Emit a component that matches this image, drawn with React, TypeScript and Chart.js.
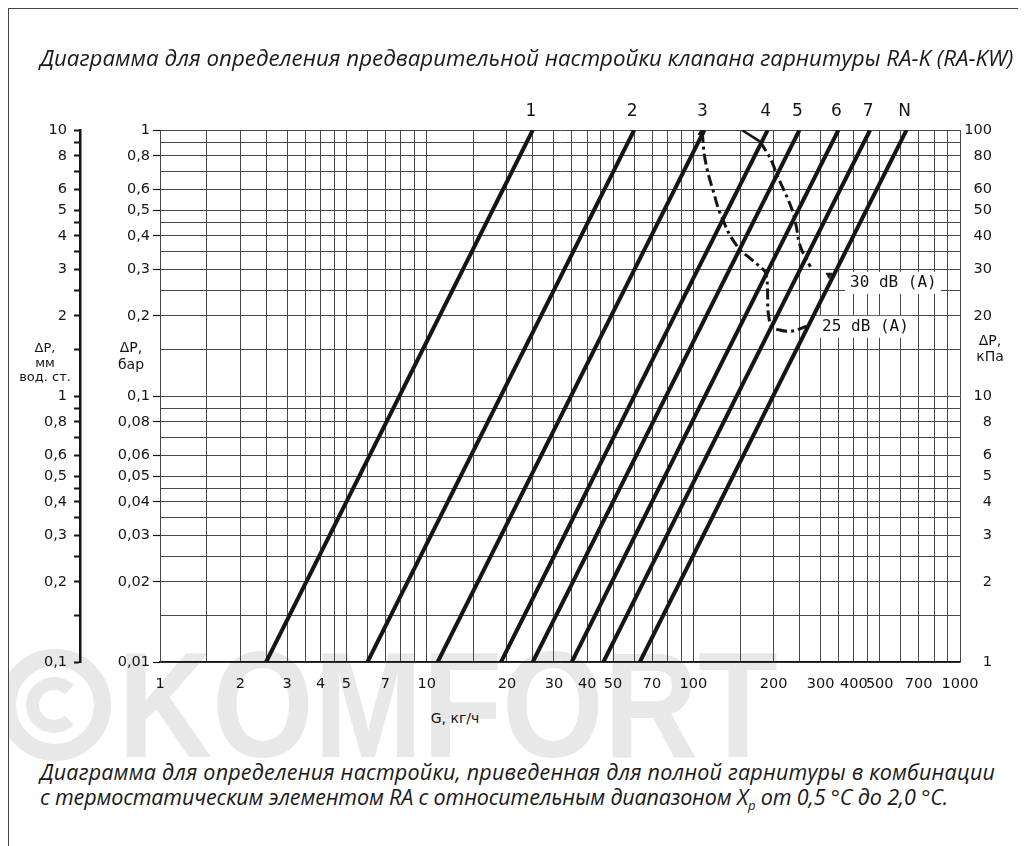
import React, { useEffect, useRef } from 'react';
import { Chart, registerables } from 'chart.js';

Chart.register(...registerables);

// Presetting lines: flow G (kg/h) read at ΔP = 0.01 bar and at ΔP = 1 bar
const settingNames = ['1', '2', '3', '4', '5', '6', '7', 'N'];
const flowAtLowDp = [2.5, 6, 11, 19, 25, 35, 46, 63];
const flowAtHighDp = [25, 60, 110, 190, 250, 350, 460, 630];
const lowDp = 0.01;
const highDp = 1;

// 25 dB(A) noise limit curve
const noise25Flow = [108, 110, 114, 119, 124, 130, 137, 150, 163, 178, 186, 189, 190, 191, 197, 211, 230, 248, 265];
const noise25Dp = [0.985, 0.805, 0.677, 0.586, 0.508, 0.452, 0.403, 0.354, 0.33, 0.306, 0.293, 0.273, 0.236, 0.205, 0.182, 0.177, 0.175, 0.178, 0.183];

// 30 dB(A) noise limit curve: short solid lead-in, then dash-dot
const noise30LeadFlow = [152, 178];
const noise30LeadDp = [1.0, 0.904];
const noise30Flow = [178, 188, 197, 206, 217, 227, 237, 244, 248, 255, 266, 275];
const noise30Dp = [0.904, 0.829, 0.76, 0.677, 0.604, 0.546, 0.486, 0.427, 0.386, 0.354, 0.325, 0.306];

// arrow marks at curve ends
const arrowFlow = [107, 323];
const arrowDp = [0.975, 0.285];
const arrowRotation = [0, 180];

const noiseLabels = ['30 dB (A)', '25 dB (A)'];
const noiseLabelFlow = [387, 304];
const noiseLabelDp = [0.266, 0.182];

const gridMantissas = [1, 1.5, 2, 2.5, 3, 3.5, 4, 4.5, 5, 6, 7, 8, 9];
const flowTickLabels = [1, 2, 3, 4, 5, 7, 10, 20, 30, 40, 50, 70, 100, 200, 300, 400, 500, 700, 1000];
const barTickLabels = [1, 0.8, 0.6, 0.5, 0.4, 0.3, 0.2, 0.1, 0.08, 0.06, 0.05, 0.04, 0.03, 0.02, 0.01];
const mmTickLabels = [10, 8, 6, 5, 4, 3, 2, 1, 0.8, 0.6, 0.5, 0.4, 0.3, 0.2, 0.1];
const kpaTickLabels = [100, 80, 60, 50, 40, 30, 20, 10, 8, 6, 5, 4, 3, 2, 1];

const logTicks = (min: number, max: number) => {
  const out: number[] = [];
  const e0 = Math.round(Math.log10(min));
  const e1 = Math.round(Math.log10(max));
  for (let e = e0; e < e1; e++) {
    for (const m of gridMantissas) out.push(+(m * Math.pow(10, e)).toPrecision(6));
  }
  out.push(max);
  return out;
};
const inList = (v: number, list: number[]) => list.some((l) => Math.abs(v - l) <= l * 1e-6);
const fmt = (v: number) => String(+v.toPrecision(6)).replace('.', ',');
const pts = (xs: number[], ys: number[]) => xs.map((x, i) => ({ x, y: ys[i] }));

const TICK_FONT = { family: '"DejaVu Sans", sans-serif', size: 14.5 };
const INK = '#151515';
const GRID = '#474747';
const WATERMARK = '#e8e8e8';

export default function App() {
  const ref = useRef<HTMLCanvasElement | null>(null);

  useEffect(() => {
    if (!ref.current) return;

    const annotate = {
      id: 'annotate',
      beforeDatasetsDraw(chart: any) {
        const { ctx, scales } = chart;
        const x = scales.x;
        const y = scales.y;
        ctx.save();
        ctx.font = '16px "DejaVu Sans Mono", monospace';
        ctx.textBaseline = 'middle';
        ctx.textAlign = 'left';
        noiseLabels.forEach((t, i) => {
          const px = x.getPixelForValue(noiseLabelFlow[i]);
          const py = y.getPixelForValue(noiseLabelDp[i]);
          const w = ctx.measureText(t).width;
          ctx.fillStyle = '#ffffff';
          ctx.fillRect(px - 5, py - 11, w + 9, 22);
          ctx.fillStyle = INK;
          ctx.fillText(t, px, py);
        });
        ctx.restore();
      },
      afterDatasetsDraw(chart: any) {
        const { ctx, scales, chartArea } = chart;
        const x = scales.x;
        ctx.save();
        ctx.font = '17px "DejaVu Sans", sans-serif';
        ctx.textBaseline = 'middle';
        ctx.textAlign = 'center';
        ctx.fillStyle = INK;
        settingNames.forEach((n, i) => {
          ctx.fillText(n, x.getPixelForValue(flowAtHighDp[i]) - 2, chartArea.top - 18);
        });
        ctx.restore();
      },
    };

    const settingSets = settingNames.map((n, i) => ({
      label: 'Настройка ' + n,
      data: [
        { x: flowAtLowDp[i], y: lowDp },
        { x: flowAtHighDp[i], y: highDp },
      ],
      borderColor: INK,
      borderWidth: 4,
      pointRadius: 0,
      tension: 0,
      borderCapStyle: 'butt',
    }));

    const chart = new Chart(ref.current, {
      type: 'line',
      data: {
        datasets: [
          ...settingSets,
          {
            label: '25 dB (A)',
            data: pts(noise25Flow, noise25Dp),
            borderColor: INK,
            borderWidth: 3,
            borderDash: [11, 4, 3, 4],
            pointRadius: 0,
            tension: 0.35,
          },
          {
            label: '30 dB (A) lead',
            data: pts(noise30LeadFlow, noise30LeadDp),
            borderColor: INK,
            borderWidth: 2.5,
            pointRadius: 0,
            tension: 0,
          },
          {
            label: '30 dB (A)',
            data: pts(noise30Flow, noise30Dp),
            borderColor: INK,
            borderWidth: 3,
            borderDash: [11, 4, 3, 4],
            pointRadius: 0,
            tension: 0.35,
          },
          {
            label: 'arrows',
            data: pts(arrowFlow, arrowDp),
            showLine: false,
            pointStyle: 'triangle',
            pointRadius: 3.5,
            pointRotation: arrowRotation,
            backgroundColor: INK,
            borderColor: INK,
            borderWidth: 1,
          },
        ] as any,
      },
      options: {
        responsive: false,
        animation: false,
        events: [],
        layout: { padding: { left: 0, right: 26, top: 122, bottom: 6 } },
        plugins: { legend: { display: false }, tooltip: { enabled: false } },
        scales: {
          x: {
            type: 'logarithmic',
            position: 'bottom',
            min: 1,
            max: 1000,
            afterBuildTicks: (s: any) => {
              s.ticks = logTicks(1, 1000).map((v) => ({ value: v }));
            },
            afterFit: (s: any) => {
              s.height = 40;
            },
            ticks: {
              autoSkip: false,
              maxRotation: 0,
              minRotation: 0,
              padding: 14,
              color: INK,
              font: TICK_FONT,
              callback: (v: any) => (inList(+v, flowTickLabels) ? fmt(+v) : ''),
            },
            grid: { color: GRID, lineWidth: 1, drawTicks: false },
            border: { display: true, color: INK, width: 1.5 },
          },
          y: {
            type: 'logarithmic',
            position: 'left',
            weight: 0,
            min: 0.01,
            max: 1,
            afterBuildTicks: (s: any) => {
              s.ticks = logTicks(0.01, 1).map((v) => ({ value: v }));
            },
            afterFit: (s: any) => {
              s.width = 80;
            },
            ticks: {
              autoSkip: false,
              padding: 3,
              color: INK,
              font: TICK_FONT,
              callback: (v: any) => (inList(+v, barTickLabels) ? fmt(+v) : ''),
            },
            grid: {
              color: GRID,
              lineWidth: 1,
              drawTicks: true,
              tickLength: 7,
              tickWidth: 1.2,
              tickColor: (c: any) => (c.tick && inList(c.tick.value, barTickLabels) ? INK : 'rgba(0,0,0,0)'),
            },
            border: { display: true, color: GRID, width: 1 },
          },
          yMm: {
            type: 'logarithmic',
            position: 'left',
            weight: 1,
            min: 0.1,
            max: 10,
            afterBuildTicks: (s: any) => {
              s.ticks = logTicks(0.1, 10).map((v) => ({ value: v }));
            },
            afterFit: (s: any) => {
              s.width = 72;
            },
            ticks: {
              autoSkip: false,
              padding: 7,
              color: INK,
              font: TICK_FONT,
              callback: (v: any) => (inList(+v, mmTickLabels) ? fmt(+v) : ''),
            },
            grid: { drawOnChartArea: false, drawTicks: true, tickLength: 6, tickColor: INK, tickWidth: 2 },
            border: { display: true, color: INK, width: 2.5 },
          },
          yKpa: {
            type: 'logarithmic',
            position: 'right',
            min: 1,
            max: 100,
            afterBuildTicks: (s: any) => {
              s.ticks = kpaTickLabels.map((v) => ({ value: v }));
            },
            afterFit: (s: any) => {
              s.width = 32;
            },
            ticks: {
              autoSkip: false,
              crossAlign: 'far',
              color: INK,
              font: TICK_FONT,
              callback: (v: any) => fmt(+v),
            },
            grid: { display: false },
            border: { display: false },
          },
        },
      } as any,
      plugins: [annotate],
    });

    return () => chart.destroy();
  }, []);

  const italic: React.CSSProperties = {
    position: 'absolute',
    fontFamily: '"Open Sans", sans-serif',
    fontStyle: 'italic',
    color: '#1a1a1a',
    whiteSpace: 'nowrap',
    zIndex: 2,
  };
  const axisTitle: React.CSSProperties = {
    position: 'absolute',
    fontFamily: '"DejaVu Sans", sans-serif',
    fontSize: 13,
    color: INK,
    textAlign: 'center',
    zIndex: 2,
  };

  return (
    <div style={{ position: 'relative', width: 1018, height: 838, overflow: 'hidden', fontFamily: '"DejaVu Sans", sans-serif' }}>
      {/* watermark */}
      <div
        style={{
          position: 'absolute',
          left: -9,
          top: 641,
          width: 112,
          height: 112,
          boxSizing: 'border-box',
          borderRadius: '50%',
          border: '17px solid ' + WATERMARK,
          zIndex: 0,
        }}
      />
      <div
        style={{
          position: 'absolute',
          left: 18,
          top: 669,
          width: 56,
          height: 56,
          boxSizing: 'border-box',
          borderRadius: '50%',
          border: '13px solid ' + WATERMARK,
          borderRightColor: 'transparent',
          zIndex: 0,
        }}
      />
      <div
        style={{
          position: 'absolute',
          left: 110,
          top: 622,
          fontFamily: '"Liberation Sans", sans-serif',
          fontWeight: 700,
          fontSize: 150,
          lineHeight: '150px',
          color: WATERMARK,
          transform: 'scaleX(0.87)',
          transformOrigin: 'left top',
          whiteSpace: 'nowrap',
          zIndex: 0,
        }}
      >
        KOMFORT
      </div>

      {/* frame */}
      <div style={{ position: 'absolute', left: 0, top: 0, width: 1018, height: 1, background: '#444', zIndex: 2 }} />
      <div style={{ position: 'absolute', left: 0, top: 0, width: 1, height: 838, background: '#444', zIndex: 2 }} />

      <div style={{ ...italic, left: 32, top: 36, fontSize: 22.3, lineHeight: '28px' }}>
        Диаграмма для определения предварительной настройки клапана гарнитуры RA-K (RA-KW)
      </div>

      <canvas
        ref={ref}
        width={1010}
        height={700}
        style={{ position: 'absolute', left: 0, top: 0, width: 1010, height: 700, zIndex: 1 }}
      />

      <div style={{ ...axisTitle, left: 7, top: 333, width: 60, lineHeight: '14.5px' }}>
        ΔP,
        <br />
        мм
        <br />
        вод. ст.
      </div>
      <div style={{ ...axisTitle, left: 98, top: 331, width: 50, lineHeight: '17px', fontSize: 14 }}>
        ΔP,
        <br />
        бар
      </div>
      <div style={{ ...axisTitle, left: 957, top: 324, width: 50, lineHeight: '16px', fontSize: 14 }}>
        ΔP,
        <br />
        кПа
      </div>
      <div style={{ ...axisTitle, left: 397, top: 701, width: 100, lineHeight: '18px', fontSize: 14 }}>G, кг/ч</div>

      <div style={{ ...italic, left: 32, top: 751, fontSize: 21.5, lineHeight: '25px', letterSpacing: '0.2px' }}>
        Диаграмма для определения настройки, приведенная для полной гарнитуры в комбинации
      </div>
      <div style={{ ...italic, left: 32, top: 776, fontSize: 21.5, lineHeight: '25px', letterSpacing: '-0.15px' }}>
        с термостатическим элементом RA с относительным диапазоном X
        <sub style={{ fontSize: 13, verticalAlign: '-5px', lineHeight: 0 }}>p</sub> от 0,5 °C до 2,0 °C.
      </div>
    </div>
  );
}
